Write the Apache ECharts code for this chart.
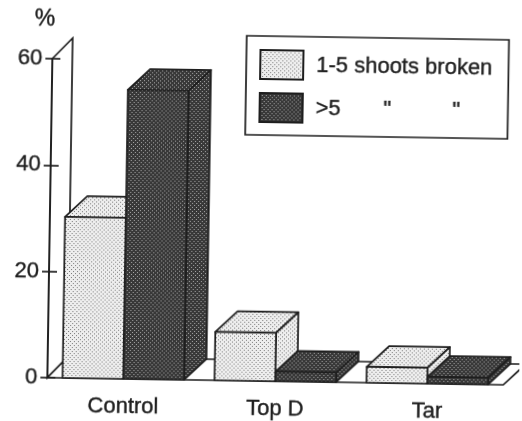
<!DOCTYPE html>
<html lang="en">

<head>
    <meta charset="UTF-8">
    <title>Broken shoots</title>
    <script src="https://cdn.jsdelivr.net/npm/echarts@6/dist/echarts.min.js"></script>
    <style>
        * {
            margin: 0;
            padding: 0
        }

        html,
        body {
            width: 100%;
            height: 100%;
            overflow: hidden;
            background: #fff;
        }

        /* the scan is a little crooked, so the whole chart is turned with it */
        #main {
            width: 522px;
            height: 421px;
            transform: rotate(0.9deg);
            transform-origin: 50% 50%;
        }
    </style>
</head>

<body>
    <div id="main"></div>
    <script type="text/javascript">
        var categories = ['Control', 'Top D', 'Tar'];
        var lightName = '1-5 shoots broken';
        var darkName = '>5       "          "';
        var lightValues = [30.3, 9.1, 3];
        var darkValues = [54.4, 1.8, 1.3];

        var FONT = '"Liberation Sans", Arial, sans-serif';
        var INK = '#1e1e1e';
        var DEPTH_X = 22, DEPTH_Y = 21;
        var WALL_X = 20;

        // dotted screen fills
        function screen(bg, dot) {
            var c = document.createElement('canvas');
            c.width = 4;
            c.height = 4;
            var ctx = c.getContext('2d');
            ctx.fillStyle = bg;
            ctx.fillRect(0, 0, 4, 4);
            ctx.fillStyle = dot;
            ctx.fillRect(0, 0, 1, 1);
            ctx.fillRect(2, 2, 1, 1);
            return { image: c, repeat: 'repeat' };
        }
        var lightFill = screen('#eeeeee', '#787878');
        var darkFill = screen('#383838', '#a8a8a8');

        function box(side, fill) {
            return function (params, api) {
                var base = api.coord([api.value(0), 0]);
                var top = api.coord([api.value(0), api.value(1)]);
                var w = api.size([1, 0])[0] * 0.4;
                var x0 = base[0] + side * w, x1 = x0 + w;
                var y0 = base[1], y1 = top[1];
                var style = { fill: fill, stroke: INK, lineWidth: 1.7, lineJoin: 'round' };
                return {
                    type: 'group',
                    children: [
                        { type: 'polygon', shape: { points: [[x0, y1], [x0 + DEPTH_X, y1 - DEPTH_Y], [x1 + DEPTH_X, y1 - DEPTH_Y], [x1, y1]] }, style: style },
                        { type: 'polygon', shape: { points: [[x1, y1], [x1 + DEPTH_X, y1 - DEPTH_Y], [x1 + DEPTH_X, y0 - DEPTH_Y], [x1, y0]] }, style: style },
                        { type: 'rect', shape: { x: x0, y: y1, width: w, height: y0 - y1 }, style: style }
                    ]
                };
            };
        }

        // back wall and floor behind the boxes
        function frame(params, api) {
            var cs = params.coordSys;
            var l = cs.x, r = cs.x + cs.width;
            var y0 = api.coord([0, 0])[1], yTop = api.coord([0, 60])[1];
            var style = { fill: '#fff', stroke: INK, lineWidth: 1.7 };
            var children = [
                { type: 'polygon', shape: { points: [[l, yTop], [l + WALL_X, yTop - DEPTH_Y], [l + WALL_X, y0 - DEPTH_Y], [l, y0]] }, style: style },
                { type: 'polygon', shape: { points: [[l, y0], [l + WALL_X, y0 - DEPTH_Y], [r + DEPTH_X, y0 - DEPTH_Y], [r, y0]] }, style: style }
            ];
            return { type: 'group', children: children };
        }

        var myChart = echarts.init(document.getElementById('main'));

        var textHeavy = { fontFamily: FONT, color: INK, textBorderColor: INK, textBorderWidth: 0.4 };

        var option = {
            animation: false,
            backgroundColor: '#fff',
            textStyle: { fontFamily: FONT },
            grid: { left: 50, top: 62, width: 456, height: 319 },
            legend: {
                orient: 'vertical',
                left: 244,
                top: 36,
                padding: [13, 16, 12, 13],
                icon: 'rect',
                itemWidth: 43,
                itemHeight: 29,
                itemGap: 12,
                borderColor: INK,
                borderWidth: 1.7,
                data: [lightName, darkName],
                textStyle: Object.assign({ fontSize: 22, padding: [0, 0, 0, 8] }, textHeavy)
            },
            xAxis: {
                type: 'category',
                data: categories,
                axisLine: { show: false },
                axisTick: { show: false },
                axisLabel: Object.assign({ fontSize: 22, margin: 17 }, textHeavy)
            },
            yAxis: [{
                type: 'value',
                min: 0,
                max: 60,
                interval: 20,
                z: 5,
                name: '%',
                nameGap: 28,
                nameTextStyle: Object.assign({ fontSize: 23, padding: [0, 16, 0, 0] }, textHeavy),
                splitLine: { show: false },
                axisLine: { show: true, lineStyle: { color: INK, width: 1.7 } },
                axisTick: { show: true, length: 7, lineStyle: { color: INK, width: 1.7 } },
                axisLabel: Object.assign({ fontSize: 22, margin: 10, padding: [8, 0, 0, 0] }, textHeavy)
            }, {
                // inner half of the ticks
                type: 'value',
                position: 'left',
                min: 0,
                max: 60,
                interval: 20,
                z: 5,
                splitLine: { show: false },
                axisLine: { show: false },
                axisTick: { show: true, inside: true, length: 8, lineStyle: { color: INK, width: 1.7 } },
                axisLabel: { show: false }
            }],
            series: [
                {
                    type: 'custom',
                    silent: true,
                    renderItem: frame,
                    data: [[0, 0]],
                    encode: { x: 0, y: 1 },
                    z: 1
                },
                {
                    name: lightName,
                    type: 'custom',
                    renderItem: box(-1, lightFill),
                    itemStyle: { color: lightFill, borderColor: INK, borderWidth: 1.7 },
                    data: lightValues.map(function (v, i) { return [i, v]; }),
                    encode: { x: 0, y: 1 },
                    z: 3
                },
                {
                    name: darkName,
                    type: 'custom',
                    renderItem: box(0, darkFill),
                    itemStyle: { color: darkFill, borderColor: INK, borderWidth: 1.7 },
                    data: darkValues.map(function (v, i) { return [i, v]; }),
                    encode: { x: 0, y: 1 },
                    z: 4
                }
            ]
        };

        myChart.setOption(option);
    </script>
</body>

</html>
